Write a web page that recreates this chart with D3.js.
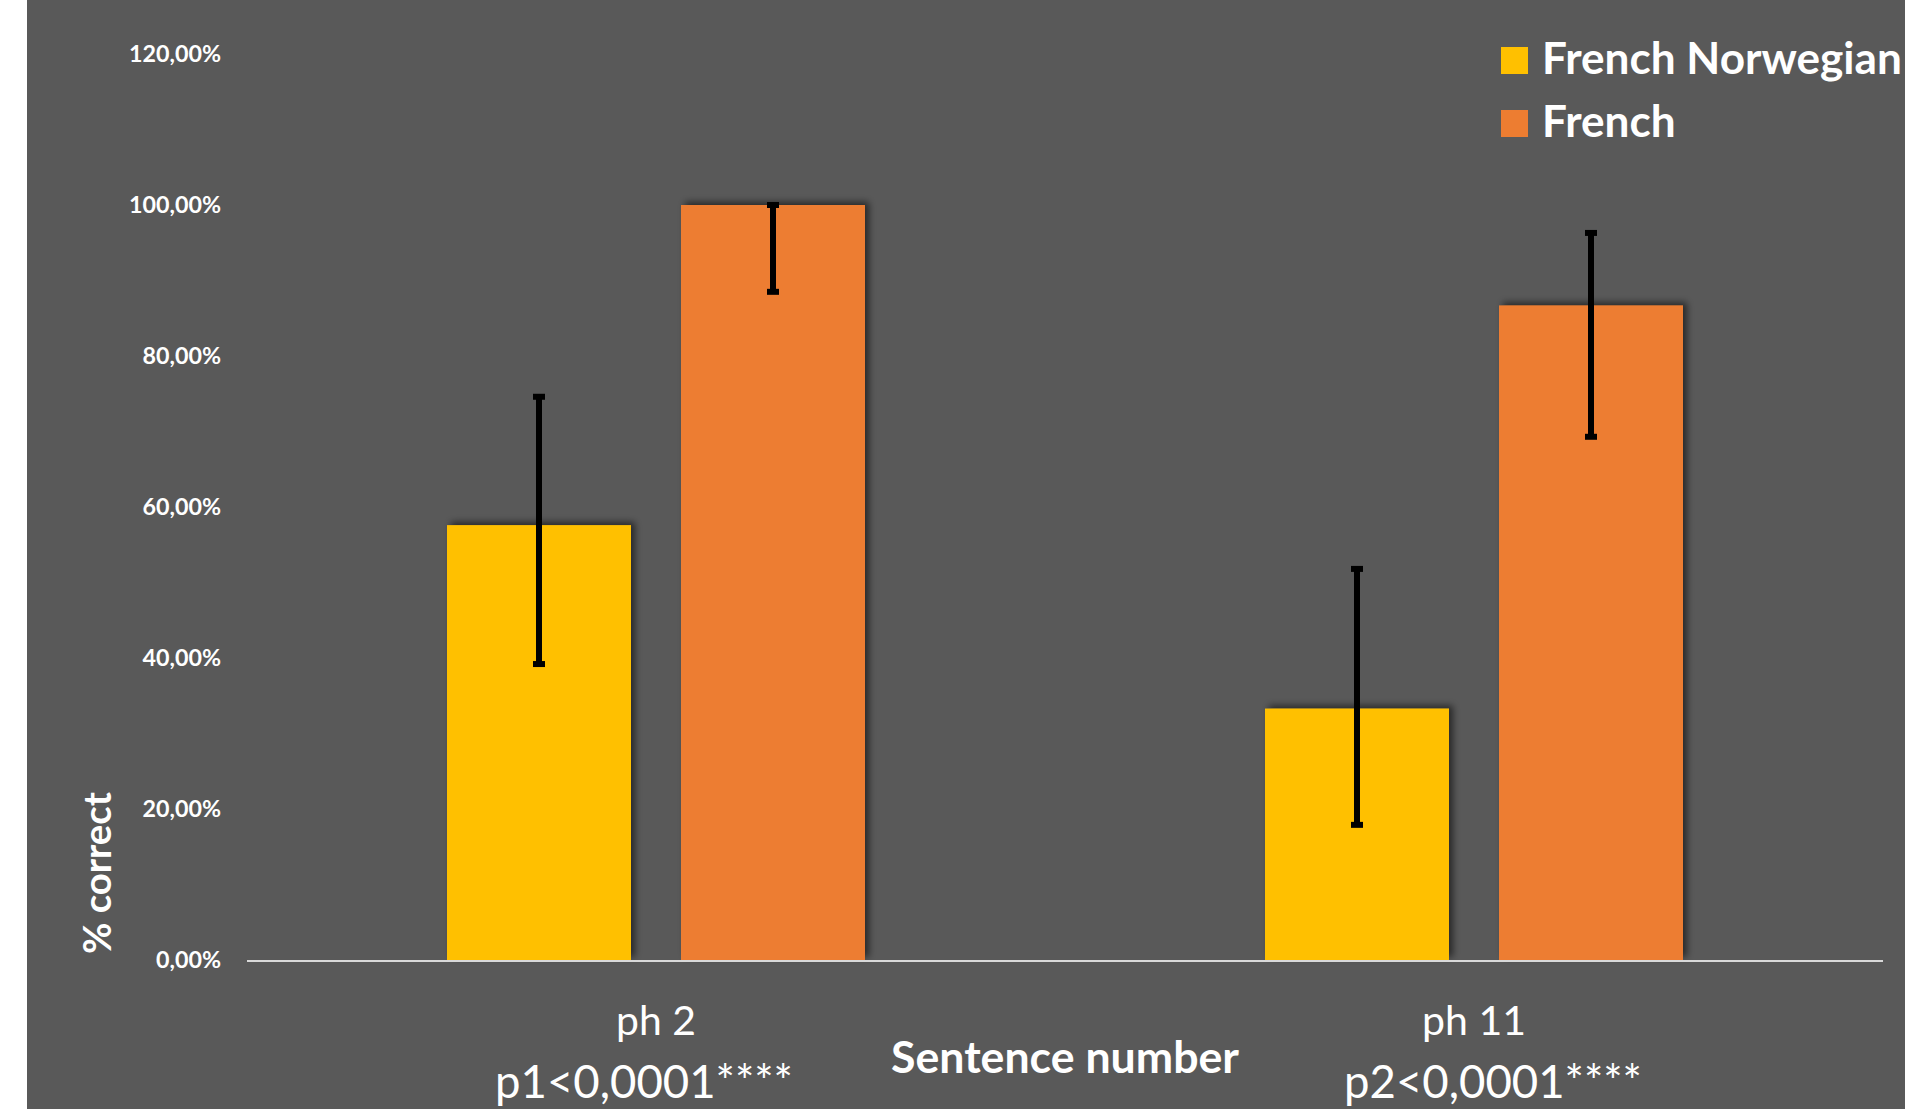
<!DOCTYPE html>
<html>
<head>
<meta charset="utf-8">
<script src="https://cdn.jsdelivr.net/npm/d3@7"></script>
<style>
  html, body { margin: 0; padding: 0; background: #ffffff; }
  svg { display: block; }
</style>
</head>
<body>
<svg id="chart" width="1905" height="1109"></svg>
<script>
// ---- data ----
const categories = ["ph 2", "ph 11"];
const categorySubLabels = ["p1<0,0001****", "p2<0,0001****"];
const seriesNames = ["French Norwegian", "French"];
const seriesColors = ["#FFC000", "#ED7D31"];
const frenchNorwegian = [57.6, 33.3];
const french = [100, 86.7];
const frenchNorwegianLow = [39.2, 17.9];
const frenchNorwegianHigh = [74.6, 51.8];
const frenchLow = [88.5, 69.3];
const frenchHigh = [100, 96.3];
const yTicks = [0, 20, 40, 60, 80, 100, 120];
const yTitle = "% correct";
const xTitle = "Sentence number";

// ---- layout ----
const W = 1905, H = 1109;
const plotLeft = 247, plotRight = 1883, plotBottom = 960, plotTop = 54;
const subLabelDx = [-12, 19];

const svg = d3.select("#chart");
const defs = svg.append("defs");
const f = defs.append("filter").attr("id", "shadow")
  .attr("x", "-20%").attr("y", "-20%").attr("width", "140%").attr("height", "140%");
f.append("feDropShadow").attr("dx", 4).attr("dy", -3).attr("stdDeviation", 3.5)
  .attr("flood-color", "#000").attr("flood-opacity", 0.55);

svg.append("rect").attr("x", 0).attr("y", 0).attr("width", W).attr("height", H).attr("fill", "#ffffff");
svg.append("rect").attr("x", 27).attr("y", 0).attr("width", W - 27).attr("height", H).attr("fill", "#595959");

const y = d3.scaleLinear().domain([0, 120]).range([plotBottom, plotTop]);
const x0 = d3.scaleBand().domain(categories).range([plotLeft, plotRight]).padding(0);
const x1 = d3.scaleBand().domain(seriesNames).range([200, 618]).paddingInner(0.2137).paddingOuter(0);

function fit(sel, target) {
  const node = sel.node();
  const fs = parseFloat(sel.attr("font-size"));
  const w = node.getComputedTextLength();
  if (w > 0) sel.attr("font-size", (fs * target / w).toFixed(2));
  return sel;
}

// y tick labels
const fmt = v => v.toFixed(2).replace(".", ",") + "%";
const tickG = svg.append("g").attr("class", "y-axis");
let tickSize = 20;
{
  const probe = tickG.append("text").attr("font-family", "Lato").attr("font-weight", "bold")
    .attr("font-size", 20).text(fmt(100));
  fit(probe, 92);
  tickSize = parseFloat(probe.attr("font-size"));
  probe.remove();
}
tickG.selectAll("text").data(yTicks).join("text")
  .attr("x", 221).attr("y", d => y(d)).attr("dy", "0.35em")
  .attr("text-anchor", "end").attr("font-family", "Lato").attr("font-weight", "bold")
  .attr("font-size", tickSize).attr("fill", "#ffffff").text(d => fmt(d));

// bars
const data = categories.map((c, i) => ({
  cat: c,
  vals: [
    { s: seriesNames[0], v: frenchNorwegian[i], lo: frenchNorwegianLow[i], hi: frenchNorwegianHigh[i], color: seriesColors[0] },
    { s: seriesNames[1], v: french[i], lo: frenchLow[i], hi: frenchHigh[i], color: seriesColors[1] }
  ]
}));

const groups = svg.append("g").selectAll("g").data(data).join("g")
  .attr("transform", d => `translate(${x0(d.cat)},0)`);
groups.selectAll("rect").data(d => d.vals).join("rect")
  .attr("x", d => x1(d.s)).attr("width", x1.bandwidth())
  .attr("y", d => y(d.v)).attr("height", d => y(0) - y(d.v))
  .attr("fill", d => d.color).attr("filter", "url(#shadow)");

// axis line
svg.append("line").attr("x1", plotLeft).attr("x2", plotRight)
  .attr("y1", y(0) + 1).attr("y2", y(0) + 1)
  .attr("stroke", "#D9D9D9").attr("stroke-width", 2);

// error bars
const eb = groups.selectAll("g.err").data(d => d.vals).join("g").attr("class", "err");
eb.append("line")
  .attr("x1", d => x1(d.s) + x1.bandwidth() / 2).attr("x2", d => x1(d.s) + x1.bandwidth() / 2)
  .attr("y1", d => y(d.hi)).attr("y2", d => y(d.lo))
  .attr("stroke", "#000").attr("stroke-width", 6);
eb.append("line")
  .attr("x1", d => x1(d.s) + x1.bandwidth() / 2 - 6).attr("x2", d => x1(d.s) + x1.bandwidth() / 2 + 6)
  .attr("y1", d => y(d.hi)).attr("y2", d => y(d.hi))
  .attr("stroke", "#000").attr("stroke-width", 6);
eb.append("line")
  .attr("x1", d => x1(d.s) + x1.bandwidth() / 2 - 6).attr("x2", d => x1(d.s) + x1.bandwidth() / 2 + 6)
  .attr("y1", d => y(d.lo)).attr("y2", d => y(d.lo))
  .attr("stroke", "#000").attr("stroke-width", 6);

// category labels
const catG = svg.append("g");
const catW = [80, 104];
const subW = [298, 298];
categories.forEach((c, i) => {
  const cx = x0(c) + x0.bandwidth() / 2;
  const t1 = catG.append("text").attr("x", cx).attr("y", 1035).attr("text-anchor", "middle")
    .attr("font-family", "Lato").attr("font-size", 36).attr("fill", "#ffffff").text(c);
  fit(t1, catW[i]);
  const t2 = catG.append("text").attr("x", cx + subLabelDx[i]).attr("y", 1098).attr("text-anchor", "middle")
    .attr("font-family", "Lato").attr("font-size", 36).attr("fill", "#ffffff").text(categorySubLabels[i]);
  fit(t2, subW[i]);
});

// x title
const xt = svg.append("text").attr("x", (plotLeft + plotRight) / 2).attr("y", 1073)
  .attr("text-anchor", "middle").attr("font-family", "Lato").attr("font-weight", "bold")
  .attr("font-size", 36).attr("fill", "#ffffff").text(xTitle);
fit(xt, 348);

// y title
const yt = svg.append("text").attr("transform", "translate(111,873) rotate(-90)")
  .attr("text-anchor", "middle").attr("font-family", "Lato").attr("font-weight", "bold")
  .attr("font-size", 36).attr("fill", "#ffffff").text(yTitle);
fit(yt, 162);

// legend
const lg = svg.append("g");
const legendY = [47, 110];
let legendSize = 40;
{
  const probe = lg.append("text").attr("font-family", "Lato").attr("font-weight", "bold")
    .attr("font-size", 40).text(seriesNames[0]);
  fit(probe, 360);
  legendSize = parseFloat(probe.attr("font-size"));
  probe.remove();
}
seriesNames.forEach((s, i) => {
  lg.append("rect").attr("x", 1501).attr("y", legendY[i]).attr("width", 27).attr("height", 27)
    .attr("fill", seriesColors[i]);
  lg.append("text").attr("x", 1542).attr("y", legendY[i] + 27)
    .attr("font-family", "Lato").attr("font-weight", "bold").attr("font-size", legendSize)
    .attr("fill", "#ffffff").text(s);
});
</script>
</body>
</html>
